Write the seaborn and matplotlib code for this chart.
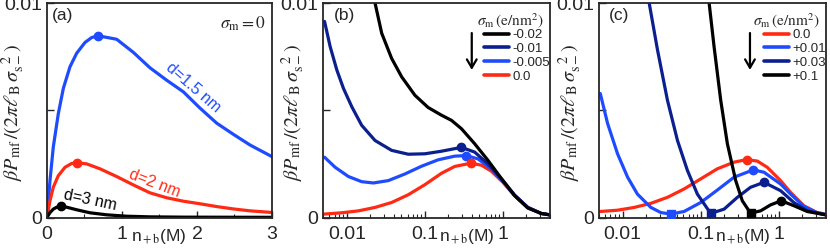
import numpy as np
import seaborn as sns
import matplotlib
matplotlib.use("Agg")
import matplotlib.pyplot as plt
from matplotlib.lines import Line2D

# ---- data (y in units of the axis, 0..0.01) ----
# (a) linear x, sigma_m = 0
a_blue_x = [0, 0.018, 0.04, 0.084, 0.151, 0.218, 0.307, 0.396, 0.507, 0.596, 0.684, 0.929, 1.151,
            1.373, 1.596, 1.818, 2.04, 2.262, 2.484, 2.707, 3.02]
a_blue_y = [0, 0.00078, 0.00172, 0.00328, 0.00484, 0.00602, 0.00703, 0.00766, 0.00816, 0.00839, 0.00847,
            0.00831, 0.0077, 0.00698, 0.0064, 0.00586, 0.0051, 0.0044, 0.00388, 0.00338, 0.0028]
a_red_x = [0, 0.04, 0.084, 0.151, 0.24, 0.329, 0.404, 0.529, 0.707, 0.929, 1.151, 1.373, 1.596,
           1.818, 2.04, 2.262, 2.484, 2.707, 3.02]
a_red_y = [0, 0.00078, 0.00141, 0.00195, 0.00234, 0.00252, 0.00255, 0.0025, 0.00227, 0.00191, 0.00152,
           0.00115, 0.00092, 0.00076, 0.00064, 0.00051, 0.0004, 0.00031, 0.00023]
a_black_x = [0, 0.04, 0.084, 0.129, 0.187, 0.262, 0.396, 0.573, 0.796, 1.062, 1.373, 1.818, 3.02]
a_black_y = [0, 0.00023, 0.00039, 0.00048, 0.00053, 0.00048, 0.00036, 0.00022, 0.000125, 0.00006,
             0.00003, 0.000016, 0.000008]
a_peaks_x = [0.684, 0.404, 0.187]
a_peaks_y = [0.00847, 0.00255, 0.00053]

# (b) sigma_m <= 0, log x
b_red_x = [0.00519, 0.00863, 0.0141, 0.023, 0.0375, 0.0612, 0.1, 0.163, 0.241, 0.386, 0.529, 0.709,
           1.0, 1.41, 2.08, 3.08, 3.95]
b_red_y = [0.00016, 0.00022, 0.00031, 0.00047, 0.0007, 0.00106, 0.00153, 0.00206, 0.00238, 0.00253,
           0.00244, 0.00216, 0.00164, 0.00102, 0.00047, 0.00019, 0.000125]
b_blue_x = [0.00519, 0.0071, 0.0105, 0.0155, 0.0219, 0.034, 0.0556, 0.0906, 0.148, 0.241, 0.34, 0.48,
            0.709, 1.0, 1.41, 2.08, 3.08, 3.95]
b_blue_y = [0.00281, 0.00234, 0.00191, 0.00167, 0.00161, 0.00172, 0.00203, 0.00239, 0.00269, 0.00286,
            0.00289, 0.00273, 0.00227, 0.00167, 0.00102, 0.00047, 0.00019, 0.000125]
b_navy_x = [0.00519, 0.00612, 0.00745, 0.00906, 0.0116, 0.0155, 0.023, 0.0375, 0.0612, 0.1, 0.163,
            0.294, 0.434, 0.644, 1.0, 1.41, 2.08, 3.08, 3.95]
b_navy_y = [0.00914, 0.00797, 0.00688, 0.00602, 0.00516, 0.0043, 0.00359, 0.00313, 0.00295, 0.00297,
            0.00309, 0.00327, 0.00305, 0.0025, 0.00172, 0.00105, 0.00047, 0.00019, 0.000125]
b_black_x = [0.022, 0.023, 0.028, 0.0375, 0.0504, 0.0745, 0.11, 0.163, 0.219, 0.294, 0.434, 0.644,
             1.0, 1.41, 2.08, 3.08, 3.95]
b_black_y = [0.0105, 0.01, 0.00859, 0.00742, 0.00656, 0.0057, 0.00513, 0.00477, 0.00453, 0.00414,
             0.00344, 0.00266, 0.00172, 0.00102, 0.00044, 0.00019, 0.000125]
b_peaks_x = [0.294, 0.34, 0.386]
b_peaks_y = [0.00327, 0.00289, 0.00253]

# (c) sigma_m >= 0, log x
c_red_x = [0.00519, 0.00863, 0.0141, 0.023, 0.0375, 0.0612, 0.1, 0.163, 0.267, 0.386, 0.529, 0.709,
           1.05, 1.41, 2.08, 3.08, 3.95]
c_red_y = [0.00028, 0.00034, 0.00047, 0.00066, 0.00094, 0.00133, 0.0018, 0.00227, 0.00258, 0.0027,
           0.00263, 0.00234, 0.00172, 0.00117, 0.00055, 0.00023, 0.00016]
c_blue_x = [0.00519, 0.00644, 0.00863, 0.0116, 0.0155, 0.023, 0.0309, 0.0414, 0.0612, 0.1, 0.163,
            0.267, 0.47, 0.644, 1.05, 1.41, 2.08, 3.08, 3.95]
c_blue_y = [0.00578, 0.00438, 0.00297, 0.00188, 0.00109, 0.00047, 0.00023, 0.00016, 0.00028, 0.0007,
            0.00128, 0.00188, 0.00222, 0.00211, 0.00156, 0.00109, 0.00052, 0.00022, 0.00014]
c_navy_x = [0.021, 0.0219, 0.028, 0.0375, 0.0504, 0.0676, 0.0906, 0.134, 0.199, 0.294, 0.434, 0.644,
            1.05, 1.55, 2.3, 3.95]
c_navy_y = [0.0105, 0.01, 0.00781, 0.00547, 0.00359, 0.00219, 0.00109, 0.00019, 0.00039, 0.00094,
            0.00141, 0.00164, 0.00125, 0.0007, 0.00031, 0.000125]
c_black_x = [0.124, 0.128, 0.148, 0.18, 0.219, 0.28, 0.34, 0.434, 0.583, 0.783, 1.07, 1.55, 2.3, 3.95]
c_black_y = [0.0105, 0.01, 0.00797, 0.00547, 0.00344, 0.00172, 0.00078, 0.0002, 0.00031, 0.00059,
             0.00078, 0.00055, 0.00028, 0.000125]
c_peaks_x = [0.386, 0.47, 0.644, 1.07]
c_peaks_y = [0.0027, 0.00222, 0.00164, 0.00078]
c_mins_x = [0.0414, 0.134, 0.434]
c_mins_y = [0.00016, 0.00019, 0.0002]

RED, BLUE, NAVY, BLACK = "#ff2a14", "#1f4bff", "#0c1f8e", "black"

b_labels = ["-0.02", "-0.01", "-0.005", "0.0"]
b_colors = [BLACK, NAVY, BLUE, RED]
c_labels = ["0.0", "+0.01", "+0.03", "+0.1"]
c_colors = [RED, BLUE, NAVY, BLACK]

sns.set_style("ticks")
plt.rcParams["font.family"] = ["Liberation Sans", "DejaVu Sans"]
plt.rcParams["mathtext.fontset"] = "stix"
plt.rcParams["axes.linewidth"] = 1.3
plt.rcParams["xtick.direction"] = "in"
plt.rcParams["ytick.direction"] = "in"

fig = plt.figure(figsize=(8.3, 2.5), dpi=100)
axa = fig.add_axes([0.0566, 0.13, 0.2711, 0.858])
axb = fig.add_axes([0.3895, 0.13, 0.2731, 0.858])
axc = fig.add_axes([0.7217, 0.13, 0.2735, 0.858])

LW = 2.3
TICKFS = 14
ylab = r"$\beta P_{\rm mf}\,/(2\pi\ell_{\rm B}\,\sigma_{\rm s-}^{\ \ 2})$"
xlab = r"n$_{\rm +b}$(M)"


def line(ax, x, y, c):
    sns.lineplot(x=x, y=y, ax=ax, color=c, lw=LW, estimator=None, sort=False, legend=False)


def style(ax, ylx, xlx):
    ax.set_ylim(0, 0.01)
    ax.set_yticks([0, 0.005, 0.01])
    ax.set_yticklabels(["0", "", "0.01"])
    ax.tick_params(which="major", length=5, width=1, labelsize=TICKFS)
    ax.tick_params(axis="x", which="major", pad=6)
    ax.tick_params(axis="y", which="major", pad=3.5)
    ax.tick_params(which="minor", length=3, width=0.8)
    ax.set_ylabel(ylab, fontsize=14.5)
    ax.yaxis.set_label_coords(ylx, 0.49)
    ax.set_xlabel(xlab, fontsize=12.5)
    ax.xaxis.set_label_coords(xlx, -0.045)


# ---- (a) ----
line(axa, a_blue_x, a_blue_y, BLUE)
line(axa, a_red_x, a_red_y, RED)
line(axa, a_black_x, a_black_y, BLACK)
for px, py, c in zip(a_peaks_x, a_peaks_y, [BLUE, RED, BLACK]):
    axa.plot(px, py, "o", color=c, ms=6, zorder=5)
axa.set_xlim(0, 3)
axa.set_xticks([0, 1, 2, 3])
axa.set_xticks([0.5, 1.5, 2.5], minor=True)
style(axa, -0.09, 0.495)
axa.text(0.02, 0.975, "(a)", transform=axa.transAxes, fontsize=12.5, va="top")
axa.text(0.87, 0.905, r"$\sigma_{\rm m}=0$", transform=axa.transAxes, fontsize=12.5,
         ha="center", va="center")
axa.text(1.95, 0.00605, "d=1.5 nm", color=BLUE, fontsize=11.5, rotation=-41, ha="center", va="center")
axa.text(1.44, 0.00158, "d=2 nm", color=RED, fontsize=11.5, rotation=-21, ha="center", va="center")
axa.text(0.57, 0.00082, "d=3 nm", color=BLACK, fontsize=11.5, rotation=-12, ha="center", va="center")

# ---- (b) ----
for x, y, c in [(b_red_x, b_red_y, RED), (b_blue_x, b_blue_y, BLUE),
                (b_navy_x, b_navy_y, NAVY), (b_black_x, b_black_y, BLACK)]:
    line(axb, x, y, c)
for px, py, c in zip(b_peaks_x, b_peaks_y, [NAVY, BLUE, RED]):
    axb.plot(px, py, "o", color=c, ms=6, zorder=5)

# ---- (c) ----
for x, y, c in [(c_red_x, c_red_y, RED), (c_blue_x, c_blue_y, BLUE),
                (c_navy_x, c_navy_y, NAVY), (c_black_x, c_black_y, BLACK)]:
    line(axc, x, y, c)
for px, py, c in zip(c_peaks_x, c_peaks_y, c_colors):
    axc.plot(px, py, "o", color=c, ms=6, zorder=5)
for px, py, c in zip(c_mins_x, c_mins_y, [BLUE, NAVY, BLACK]):
    axc.plot(px, py, "s", color=c, ms=6, zorder=5)

for ax, tag, labels, colors, ylx, arx in [(axb, "(b)", b_labels, b_colors, -0.07, 0.655),
                                          (axc, "(c)", c_labels, c_colors, -0.067, 0.665)]:
    ax.set_xscale("log")
    ax.set_xlim(0.005, 4)
    ax.set_xticks([0.01, 0.1, 1])
    ax.set_xticklabels(["0.01", "0.1", "1"])
    style(ax, ylx, 0.633)
    ax.text(0.045, 0.975, tag, transform=ax.transAxes, fontsize=12.5, va="top")
    ax.text(0.823, 0.92, r"$\sigma_{\rm m}\,({\rm e/nm^2})$", transform=ax.transAxes,
            fontsize=11, ha="center", va="center")
    handles = [Line2D([], [], color=c, lw=2.6) for c in colors]
    ax.legend(handles, labels, loc="upper right", bbox_to_anchor=(1.005, 0.885), frameon=False,
              fontsize=9.5, handlelength=1.9, handletextpad=0.25, labelspacing=0.12,
              borderaxespad=0, borderpad=0.1)
    ax.annotate("", xy=(arx, 0.688), xytext=(arx, 0.86), xycoords="axes fraction",
                arrowprops=dict(arrowstyle="->,head_width=0.35,head_length=0.6", lw=1.6,
                                color="black", shrinkA=0, shrinkB=0))

fig.savefig("out.png", dpi=100)
